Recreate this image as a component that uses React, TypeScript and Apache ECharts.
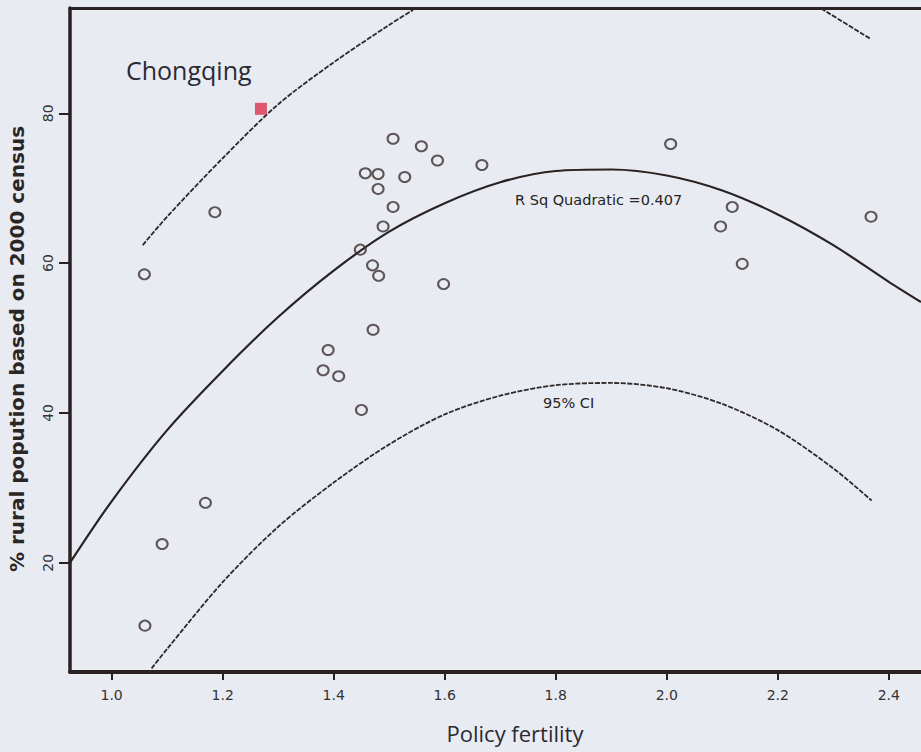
import React, { useEffect, useRef } from "react";
import * as echarts from "echarts";

// Scatter: provinces (policy fertility vs % rural population, 2000 census)
const policyFertility = [1.507, 1.558, 1.587, 1.667, 1.457, 1.48, 1.528, 1.48, 1.507, 1.489, 1.448, 1.47, 1.481, 1.598, 1.471, 1.39, 1.381, 1.409, 1.45, 2.007, 2.118, 2.097, 2.136, 2.368, 1.186, 1.059, 1.169, 1.091, 1.06];
const ruralPercent = [76.6, 75.6, 73.7, 73.1, 72.0, 71.9, 71.5, 69.9, 67.5, 64.9, 61.8, 59.7, 58.3, 57.2, 51.1, 48.4, 45.7, 44.9, 40.4, 75.9, 67.5, 64.9, 59.9, 66.2, 66.8, 58.5, 28.0, 22.5, 11.6];

// Highlighted point
const chongqingX = [1.269];
const chongqingY = [80.6];

// Quadratic fit line
const fitX = [0.925, 1.0, 1.1, 1.2, 1.3, 1.4, 1.5, 1.6, 1.7, 1.8, 1.9, 2.0, 2.1, 2.2, 2.3, 2.4, 2.458];
const fitY = [20.0, 28.2, 37.7, 45.6, 52.8, 59.0, 64.2, 68.0, 70.8, 72.3, 72.5, 71.7, 69.7, 66.5, 62.4, 57.5, 54.8];

// Upper 95% CI (two visible pieces)
const upperLeftX = [1.056, 1.1, 1.2, 1.3, 1.4, 1.5, 1.543];
const upperLeftY = [62.4, 66.2, 74.0, 81.2, 86.8, 91.8, 93.8];
const upperRightX = [2.278, 2.368];
const upperRightY = [94.0, 89.9];

// Lower 95% CI
const lowerX = [1.072, 1.1, 1.2, 1.3, 1.4, 1.5, 1.6, 1.7, 1.8, 1.9, 2.0, 2.1, 2.2, 2.3, 2.369];
const lowerY = [5.9, 8.5, 17.4, 24.8, 30.7, 35.8, 39.8, 42.3, 43.7, 44.0, 43.3, 41.2, 37.7, 32.6, 28.3];

const xTicks = [1.0, 1.2, 1.4, 1.6, 1.8, 2.0, 2.2, 2.4];
const yTicks = [20, 40, 60, 80];

const zip = (xs: number[], ys: number[]) => xs.map((x, i) => [x, ys[i]]);

export default function App() {
  const ref = useRef<HTMLDivElement>(null);
  useEffect(() => {
    if (!ref.current) return;
    const chart = echarts.init(ref.current, undefined, { renderer: "svg" });
    const axisColor = "#2a2222";
    const ciLine = { color: "#2f2828", width: 1.8, type: [5, 1.5] as any };
    chart.setOption({
      animation: false,
      backgroundColor: "#e9ebf2",
      grid: { left: 70, top: 8, right: 0, bottom: 80, containLabel: false },
      xAxis: [
        {
          type: "value",
          min: 0.925,
          max: 2.458,
          axisLine: { show: true, lineStyle: { color: axisColor, width: 4 } },
          axisTick: { show: true, customValues: xTicks, length: 8, lineStyle: { color: axisColor, width: 2 } },
          axisLabel: {
            customValues: xTicks,
            formatter: (v: number) => v.toFixed(1),
            margin: 16,
            fontFamily: "DejaVu Sans",
            fontSize: 14,
            color: "#333333",
          },
          splitLine: { show: false },
        },
        {
          type: "value",
          position: "top",
          min: 0.925,
          max: 2.458,
          axisLine: { show: true, lineStyle: { color: axisColor, width: 3 } },
          axisTick: { show: false },
          axisLabel: { show: false },
          splitLine: { show: false },
        },
      ],
      yAxis: {
        type: "value",
        min: 5.41,
        max: 94.06,
        axisLine: { show: true, lineStyle: { color: axisColor, width: 3.5 } },
        axisTick: { show: true, customValues: yTicks, length: 11, lineStyle: { color: axisColor, width: 2 } },
        axisLabel: {
          customValues: yTicks,
          rotate: 90,
          margin: 15,
          fontFamily: "DejaVu Sans",
          fontSize: 14,
          color: "#333333",
        },
        splitLine: { show: false },
      },
      graphic: [
        {
          type: "text",
          x: 17,
          y: 349,
          rotation: Math.PI / 2,
          style: {
            text: "% rural popution based on 2000 census",
            font: "bold 20px 'DejaVu Sans'",
            fill: "#2b2626",
            align: "center",
            verticalAlign: "middle",
          },
        },
        {
          type: "text",
          x: 515,
          y: 733,
          style: {
            text: "Policy fertility",
            font: "22px 'Open Sans'",
            fill: "#2a2a35",
            align: "center",
            verticalAlign: "middle",
          },
        },
        {
          type: "text",
          x: 126,
          y: 70,
          style: {
            text: "Chongqing",
            font: "25px 'Open Sans'",
            fill: "#2a2a35",
            align: "left",
            verticalAlign: "middle",
          },
        },
        {
          type: "text",
          x: 515,
          y: 200,
          style: {
            text: "R Sq Quadratic =0.407",
            font: "14.5px 'DejaVu Sans'",
            fill: "#262222",
            align: "left",
            verticalAlign: "middle",
          },
        },
        {
          type: "text",
          x: 543,
          y: 403,
          style: {
            text: "95% CI",
            font: "14.5px 'DejaVu Sans'",
            fill: "#262222",
            align: "left",
            verticalAlign: "middle",
          },
        },
      ],
      series: [
        {
          type: "line",
          data: zip(fitX, fitY),
          smooth: 0.3,
          showSymbol: false,
          lineStyle: { color: "#2a2222", width: 2.2 },
          z: 2,
        },
        {
          type: "line",
          data: zip(upperLeftX, upperLeftY),
          smooth: 0.3,
          showSymbol: false,
          lineStyle: ciLine,
          z: 2,
        },
        {
          type: "line",
          data: zip(upperRightX, upperRightY),
          smooth: 0.3,
          showSymbol: false,
          lineStyle: ciLine,
          z: 2,
        },
        {
          type: "line",
          data: zip(lowerX, lowerY),
          smooth: 0.3,
          showSymbol: false,
          lineStyle: ciLine,
          z: 2,
        },
        {
          type: "scatter",
          data: zip(policyFertility, ruralPercent),
          symbol: "circle",
          symbolSize: [11, 10],
          itemStyle: { color: "rgba(0,0,0,0)", borderColor: "#3b2f2f", borderWidth: 2 },
          z: 3,
        },
        {
          type: "scatter",
          data: zip(chongqingX, chongqingY),
          symbol: "rect",
          symbolSize: 12,
          itemStyle: { color: "#d9324f" },
          z: 4,
        },
      ],
    });
    return () => chart.dispose();
  }, []);
  return <div ref={ref} style={{ position: "absolute", left: 0, top: 0, width: 921, height: 752 }} />;
}
